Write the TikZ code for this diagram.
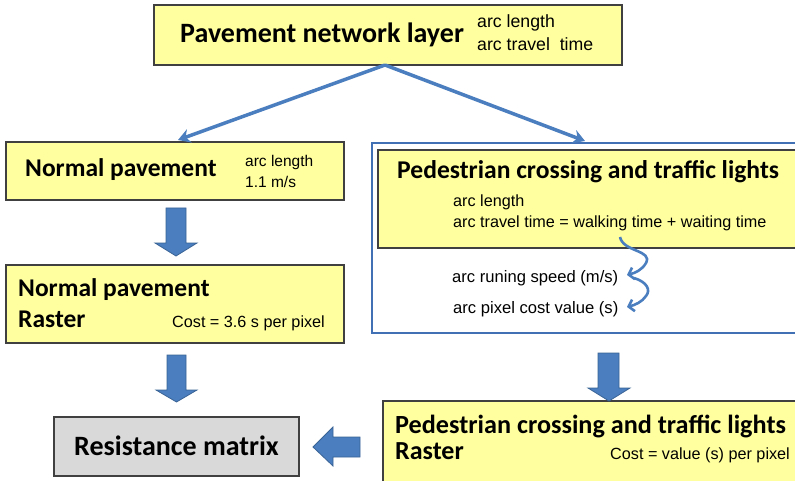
\documentclass[tikz,border=0pt]{standalone}
\usepackage{fontspec}
\setmainfont{Liberation Sans}
\newfontfamily\titlefont{Carlito}
\usetikzlibrary{arrows.meta}
\definecolor{boxyellow}{HTML}{FFFF9F}
\definecolor{boxgray}{HTML}{D9D9D9}
\definecolor{arrowblue}{HTML}{4A7EBF}
\definecolor{arrowedge}{HTML}{3A6496}
\definecolor{frameblue}{HTML}{4270B5}
\definecolor{edgegray}{HTML}{404040}
\tikzset{
  ybox/.style={draw=edgegray, line width=1.3pt, fill=boxyellow, rectangle, inner sep=0pt},
  gbox/.style={draw=edgegray, line width=1.3pt, fill=boxgray, rectangle, inner sep=0pt},
  frame/.style={draw=frameblue, line width=2pt, rectangle, inner sep=0pt},
  toptitle/.style={font=\titlefont\bfseries\fontsize{28}{30}\selectfont, inner sep=0pt},
  bigtitle/.style={font=\titlefont\bfseries\fontsize{25.6}{28}\selectfont, inner sep=0pt},
  midtitle/.style={font=\titlefont\bfseries\fontsize{25.5}{27}\selectfont, inner sep=0pt},
  smalltxt/.style={font=\fontsize{16.2}{18}\selectfont, inner sep=0pt},
  linkarrow/.style={draw=arrowblue, line width=3.5pt, -{Stealth[length=12pt,width=14pt,inset=4pt]}},
  curlyarrow/.style={draw=arrowblue, line width=2.6pt, -{Straight Barb[length=5pt,width=12pt]}},
  blockarrow/.style={fill=arrowblue, draw=arrowedge, line width=0.8pt, line join=miter}
}
\begin{document}
\begin{tikzpicture}[x=1pt,y=-1pt]
\useasboundingbox (0,0) rectangle (795,481);
\clip (0,0) rectangle (795,481);
\fill[white] (0,0) rectangle (795,481);

% top box
\node[ybox, minimum width=468pt, minimum height=60pt] (top) at (388,35) {};
\node[toptitle, anchor=base west] (toptitle) at (180,43) {Pavement network layer};
\node[smalltxt, font=\fontsize{17.7}{20}\selectfont, anchor=base west] (toplen) at (477,28) {arc length};
\node[smalltxt, font=\fontsize{17.7}{20}\selectfont, anchor=base west] (toptime) at (477,51) {arc travel\ \ time};

% normal pavement
\node[ybox, minimum width=338pt, minimum height=58pt] (normal) at (175,171) {};
\node[midtitle, anchor=base west] (normaltitle) at (25,177) {Normal pavement};
\node[smalltxt, font=\fontsize{15.5}{18}\selectfont, anchor=base west] (normallen) at (245,167) {arc length};
\node[smalltxt, font=\fontsize{15.5}{18}\selectfont, anchor=base west] (normalspeed) at (245,188) {1.1 m/s};

% normal raster
\node[ybox, minimum width=338pt, minimum height=78pt] (nraster) at (175,304) {};
\node[midtitle, anchor=base west] (nrastertitle) at (18,296) {Normal pavement};
\node[midtitle, anchor=base west] (nrasterword) at (18,327) {Raster};
\node[smalltxt, anchor=base west] (nrastercost) at (172,327) {Cost = 3.6 s per pixel};

% resistance matrix
\node[gbox, minimum width=245pt, minimum height=59pt] (resist) at (176.5,446.5) {};
\node[toptitle] (resisttitle) at (176.5,446) {Resistance matrix};

% pedestrian frame
\node[frame, minimum width=440pt, minimum height=190pt] (pframe) at (592,238) {};
\node[ybox, minimum width=430pt, minimum height=98pt] (pbox) at (593,199) {};
\node[bigtitle, anchor=base west] (ptitle) at (397,179) {Pedestrian crossing and traffic lights};
\node[smalltxt, anchor=base west] (plen) at (453,207) {arc length};
\node[smalltxt, anchor=base west] (ptime) at (453,227) {arc travel time = walking time + waiting time};
\node[smalltxt, font=\fontsize{16.6}{18}\selectfont, anchor=base west] (pspeed) at (452,282) {arc runing speed (m/s)};
\node[smalltxt, font=\fontsize{16.6}{18}\selectfont, anchor=base west] (pcost) at (453,313) {arc pixel cost value (s)};

% pedestrian raster
\node[ybox, minimum width=430pt, minimum height=100pt] (praster) at (598,451) {};
\node[bigtitle, font=\titlefont\bfseries\fontsize{26.2}{28}\selectfont, anchor=base west] (prastertitle) at (395,433) {Pedestrian crossing and traffic lights};
\node[midtitle, font=\titlefont\bfseries\fontsize{26}{28}\selectfont, anchor=base west] (prasterword) at (395,459) {Raster};
\node[smalltxt, anchor=base west] (prastercost) at (610,459) {Cost = value (s) per pixel};

% link arrows
\coordinate (split) at (385,65);
\coordinate (lefttip) at (178,140);
\coordinate (righttip) at (585,141);
\draw[linkarrow] (split) -- (lefttip);
\draw[linkarrow] (split) -- (righttip);

% curly arrows
\coordinate (c1s) at (620,237);
\coordinate (c1e) at (627,275);
\coordinate (c2s) at (634,278);
\coordinate (c2e) at (627,307);
\draw[curlyarrow] (c1s) .. controls (623,252) and (653,250) .. (646,263) .. controls (642,270) and (635,273) .. (c1e);
\draw[curlyarrow] (c2s) .. controls (647,282) and (651,290) .. (646,296) .. controls (642,302) and (635,305) .. (c2e);

% block arrows
\draw[blockarrow] (166,208) -- (186,208) -- (186,243) -- (197,243) -- (176,256) -- (155,243) -- (166,243) -- cycle;
\draw[blockarrow] (167,355) -- (186,355) -- (186,390) -- (197,390) -- (176.5,402) -- (156,390) -- (167,390) -- cycle;
\draw[blockarrow] (598,353) -- (619,353) -- (619,388) -- (630,388) -- (609,401) -- (588,388) -- (598,388) -- cycle;
\draw[blockarrow] (360,437) -- (333,437) -- (333,427) -- (313,447) -- (333,466) -- (333,457) -- (360,457) -- cycle;
\end{tikzpicture}
\end{document}
